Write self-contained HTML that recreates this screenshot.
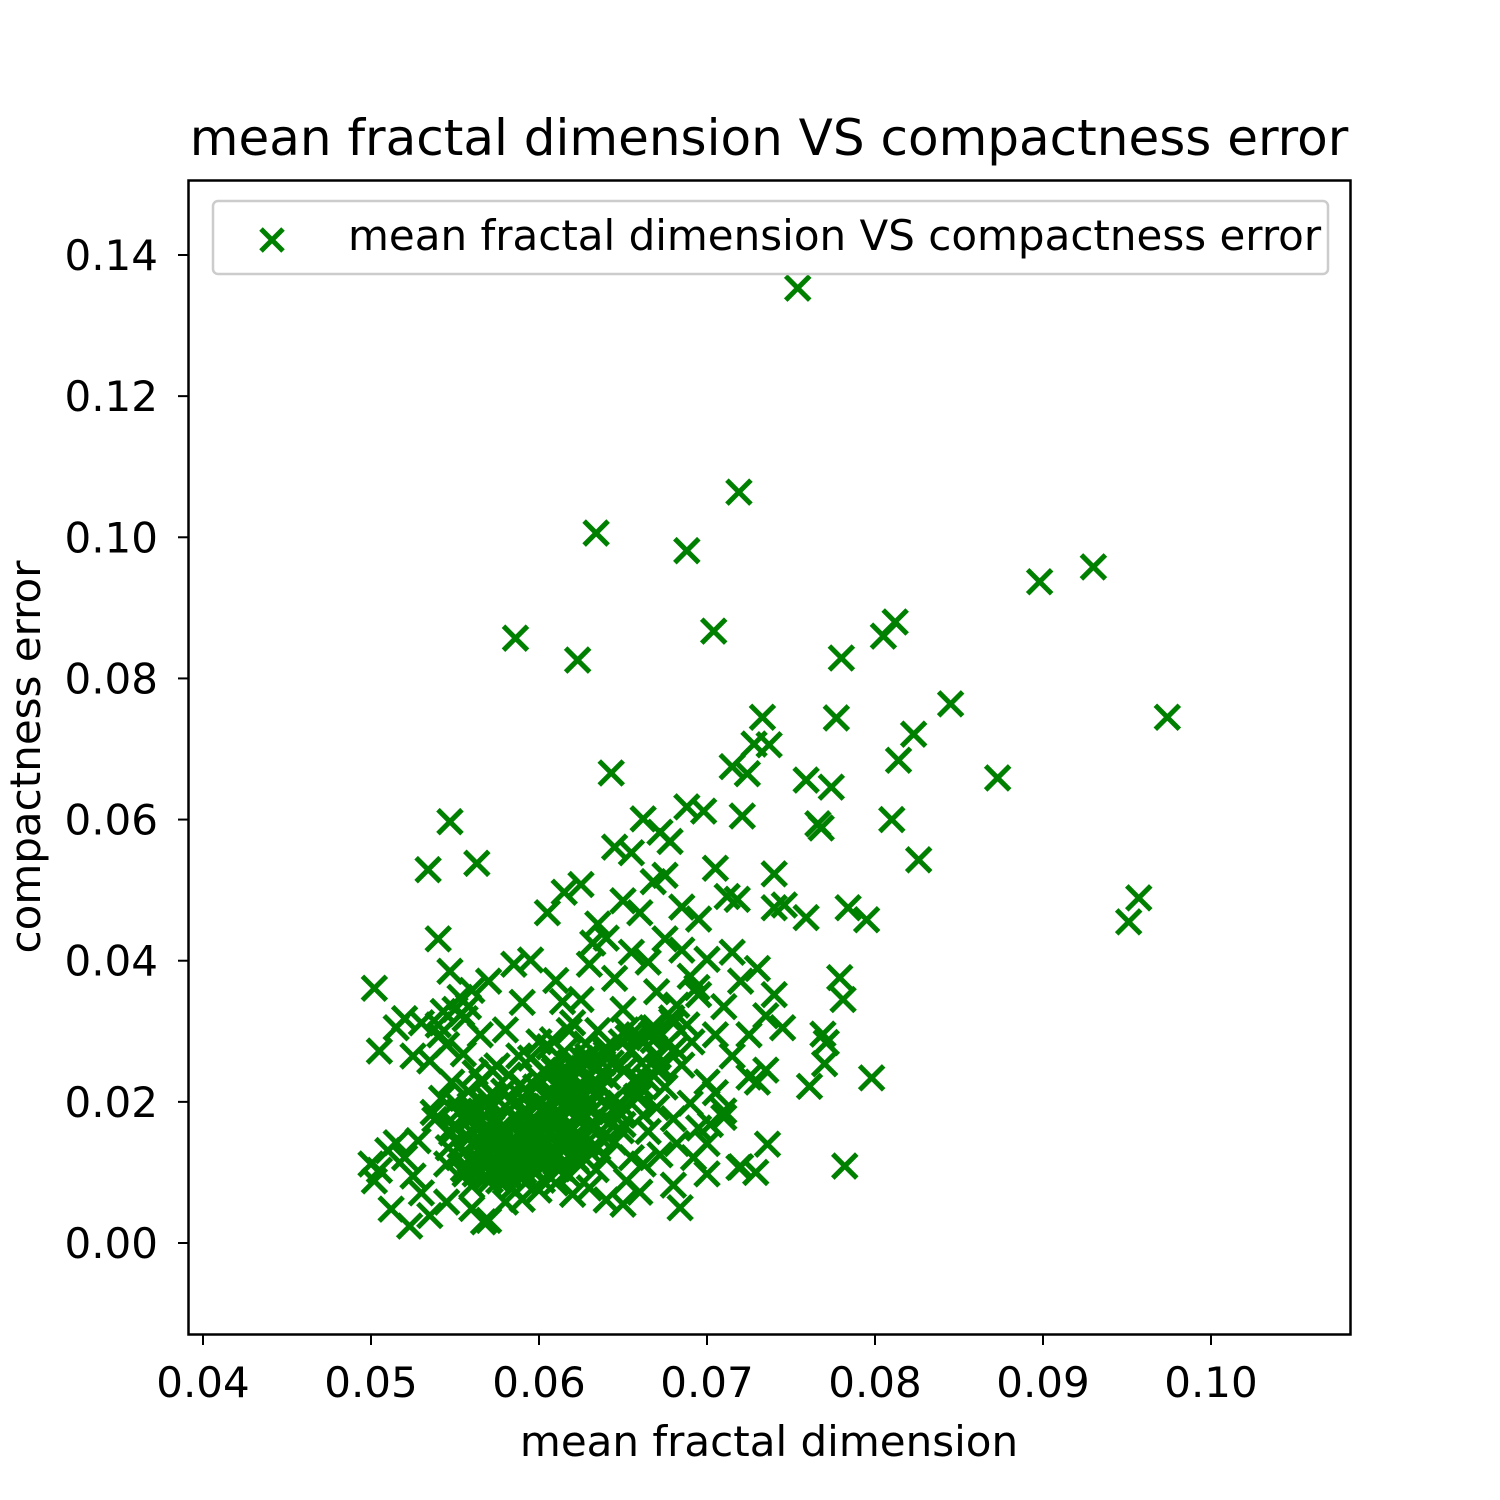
<!DOCTYPE html>
<html><head><meta charset="utf-8">
<style>
html,body{margin:0;padding:0;background:#fff;}
svg{display:block;}
text{font-family:"DejaVu Sans","Liberation Sans",sans-serif;fill:#000;}
</style></head>
<body>
<svg id="chart" width="1500" height="1500" viewBox="0 0 1500 1500" xmlns="http://www.w3.org/2000/svg">
<rect x="0" y="0" width="1500" height="1500" fill="#fff"/>
<text x="769" y="155" font-size="50" text-anchor="middle">mean fractal dimension VS compactness error</text>
<g id="marks"></g>
<rect x="188.5" y="180.5" width="1162" height="1154" fill="none" stroke="#000" stroke-width="2.5"/>
<g id="xticks"></g>
<g id="yticks"></g>
<text x="769" y="1456" font-size="42" text-anchor="middle">mean fractal dimension</text>
<text transform="translate(40,757) rotate(-90)" font-size="42" text-anchor="middle">compactness error</text>
<g>
<rect x="213" y="201" width="1115" height="73" rx="5" fill="#fff" fill-opacity="0.8" stroke="#ccc" stroke-width="2.5"/>
<g stroke="#008000" stroke-width="5"><line x1="261" y1="229" x2="283" y2="251"/><line x1="261" y1="251" x2="283" y2="229"/></g>
<text x="348" y="250" font-size="42">mean fractal dimension VS compactness error</text>
</g>
</svg>
<script>
const xTickValues=[0.04,0.05,0.06,0.07,0.08,0.09,0.10];
const xTickLabels=["0.04","0.05","0.06","0.07","0.08","0.09","0.10"];
const yTickValues=[0,0.02,0.04,0.06,0.08,0.10,0.12,0.14];
const yTickLabels=["0.00","0.02","0.04","0.06","0.08","0.10","0.12","0.14"];
const xValues=[0.0754,0.0719,0.0634,0.0688,0.0586,0.0623,0.0704,0.0898,0.0930,0.0805,0.0812,0.0780,0.0845,0.0974,0.0823,0.0814,0.0777,0.0733,0.0737,0.0728,0.0715,0.0724,0.0643,0.0873,0.0759,0.0774,0.0766,0.0768,0.0810,0.0826,0.0721,0.0547,0.0534,0.0563,0.0540,0.0951,0.0957,0.0795,0.0784,0.0759,0.0740,0.0746,0.0740,0.0798,0.0782,0.0502,0.0505,0.0761,0.0770,0.0771,0.0769,0.0779,0.0781,0.0736,0.0729,0.0719,0.0684,0.0523,0.0567,
0.0552,0.0561,0.0570,0.0578,0.0585,0.0592,0.0600,0.0607,0.0614,0.0621,0.0628,0.0635,0.0556,0.0565,0.0573,0.0581,0.0589,0.0596,0.0603,0.0611,0.0618,0.0625,0.0632,0.0639,0.0548,0.0558,0.0567,0.0575,0.0583,0.0590,0.0598,0.0605,0.0612,0.0620,0.0627,0.0634,0.0641,0.0553,0.0563,0.0571,0.0579,0.0587,0.0594,0.0602,0.0609,0.0616,0.0623,0.0630,0.0637,0.0545,0.0560,0.0568,0.0576,0.0584,0.0591,0.0599,0.0606,0.0613,0.0622,0.0629,0.0636,0.0645,0.0650,0.0655,0.0660,0.0648,0.0658,0.0665,0.0670,0.0675,0.0680,0.0668,0.0685,0.0690,0.0695,0.0700,0.0705,0.0710,
0.0580,0.0590,0.0600,0.0610,0.0620,0.0630,0.0640,0.0650,0.0660,0.0670,0.0680,0.0690,0.0700,0.0710,0.0720,0.0730,0.0740,0.0735,0.0745,0.0715,0.0725,0.0605,0.0615,0.0625,0.0635,0.0645,0.0655,0.0662,0.0672,0.0678,0.0668,0.0675,0.0688,0.0698,0.0705,0.0712,0.0718,0.0685,0.0695,0.0660,0.0650,0.0640,0.0595,0.0585,0.0570,0.0560,0.0550,0.0540,0.0530,0.0520,0.0515,0.0525,0.0535,0.0545,0.0555,0.0565,0.0575,0.0595,0.0615,0.0625,0.0635,0.0645,0.0655,0.0665,0.0675,0.0685,0.0695,0.0705,0.0715,0.0725,0.0735,0.0730,0.0700,0.0710,0.0700,0.0720,0.0680,0.0660,0.0640,0.0620,0.0600,0.0580,0.0560,0.0570,0.0590,0.0545,0.0535,0.0530,0.0525,0.0520,0.0515,0.0510,0.0505,0.0500,0.0502,0.0512,0.0528,0.0538,0.0542,0.0548,0.0552,0.0558,0.0562,0.0566,0.0572,0.0582,0.0588,0.0598,0.0608,0.0618,0.0628,0.0638,0.0648,0.0652,0.0662,0.0672,0.0682,0.0692,0.0702,0.0610,0.0630,0.0650,
0.0557,0.0564,0.0574,0.0586,0.0593,0.0601,0.0608,0.0615,0.0624,0.0631,0.0559,0.0569,0.0577,0.0588,0.0597,0.0604,0.0617,0.0626,0.0633,0.0642,0.0578,0.0594,0.0612,0.0619,0.0562,0.0582,0.0602,0.0621,0.0608,0.0598,0.0546,0.0555,0.0568,0.0584,
0.0566,0.0576,0.0587,0.0596,0.0606,0.0616,0.0626,0.0572,0.0583,0.0592,0.0603,0.0613,0.0623,0.0551,0.0561,0.0571,0.0581,0.0591,0.0601,0.0611,0.0621,0.0631,0.0641,0.0651,0.0661,0.0671,0.0681,0.0691,0.0541,0.0537,0.0549,0.0559,0.0569,0.0579,0.0589,0.0599,0.0609,0.0619,0.0629,0.0639,0.0649,0.0659,0.0669,0.0679,
0.0554,0.0558,0.0563,0.0567,0.0572,0.0577,0.0581,0.0586,0.0590,0.0595,0.0599,0.0604,0.0608,0.0613,0.0617,0.0622,0.0626,0.0631,0.0635,0.0640,0.0644,0.0649,0.0653,0.0658,0.0662,0.0667,0.0671,0.0550,0.0556,0.0562,0.0568,0.0574,0.0580,0.0586,0.0592,0.0598,0.0604,0.0610,0.0616,0.0622,0.0628,0.0634,0.0640,0.0646,0.0652,0.0658,0.0664,0.0670,0.0676,0.0682,0.0688,0.0694,0.0543,0.0547,0.0553,0.0559,0.0565,0.0571,0.0577,0.0583,0.0589,0.0595,0.0601,0.0607,0.0613,0.0619,0.0625,0.0631,0.0637,0.0643,0.0649,0.0655,0.0661,0.0667,0.0673,0.0679,0.0606,0.0614,0.0618,0.0632];
const yValues=[0.1353,0.1064,0.1006,0.0981,0.0857,0.0826,0.0867,0.0937,0.0958,0.0860,0.0880,0.0829,0.0764,0.0745,0.0721,0.0684,0.0744,0.0745,0.0706,0.0707,0.0675,0.0665,0.0666,0.0659,0.0656,0.0646,0.0594,0.0588,0.0600,0.0543,0.0605,0.0597,0.0529,0.0538,0.0431,0.0455,0.0489,0.0458,0.0475,0.0461,0.0523,0.0479,0.0475,0.0234,0.0109,0.0361,0.0272,0.0222,0.0254,0.0284,0.0296,0.0376,0.0345,0.0140,0.0100,0.0107,0.0050,0.0024,0.0030,
0.0121,0.0143,0.0112,0.0165,0.0131,0.0189,0.0152,0.0118,0.0176,0.0203,0.0141,0.0227,0.0098,0.0187,0.0209,0.0096,0.0224,0.0107,0.0245,0.0139,0.0095,0.0261,0.0168,0.0122,0.0156,0.0173,0.0126,0.0148,0.0201,0.0157,0.0134,0.0193,0.0218,0.0128,0.0182,0.0104,0.0196,0.0138,0.0107,0.0162,0.0119,0.0178,0.0211,0.0089,0.0163,0.0232,0.0115,0.0196,0.0148,0.0112,0.0081,0.0195,0.0088,0.0147,0.0102,0.0172,0.0213,0.0106,0.0154,0.0237,0.0181,0.0143,0.0168,0.0121,0.0209,0.0251,0.0234,0.0158,0.0192,0.0221,0.0176,0.0287,0.0252,0.0198,0.0163,0.0141,0.0213,0.0187,
0.0302,0.0341,0.0285,0.0372,0.0312,0.0395,0.0268,0.0331,0.0289,0.0356,0.0312,0.0378,0.0402,0.0335,0.0371,0.0389,0.0352,0.0322,0.0305,0.0412,0.0295,0.0468,0.0497,0.0508,0.0452,0.0561,0.0553,0.0601,0.0582,0.0569,0.0512,0.0521,0.0618,0.0612,0.0531,0.0491,0.0487,0.0476,0.0459,0.0468,0.0485,0.0432,0.0401,0.0395,0.0371,0.0358,0.0331,0.0309,0.0312,0.0318,0.0305,0.0265,0.0258,0.0281,0.0268,0.0295,0.0251,0.0262,0.0271,0.0345,0.0301,0.0375,0.0412,0.0398,0.0431,0.0415,0.0352,0.0295,0.0265,0.0235,0.0245,0.0228,0.0228,0.0178,0.0098,0.0108,0.0082,0.0072,0.0061,0.0069,0.0075,0.0058,0.0049,0.0032,0.0062,0.0058,0.0039,0.0071,0.0095,0.0121,0.0142,0.0131,0.0103,0.0112,0.0088,0.0048,0.0145,0.0175,0.0205,0.0228,0.0185,0.0215,0.0241,0.0228,0.0245,0.0238,0.0265,0.0221,0.0288,0.0255,0.0282,0.0255,0.0198,0.0088,0.0112,0.0125,0.0141,0.0121,0.0168,0.0085,0.0078,0.0055,
0.0152,0.0132,0.0178,0.0112,0.0142,0.0199,0.0128,0.0151,0.0172,0.0128,0.0118,0.0148,0.0131,0.0154,0.0118,0.0165,0.0188,0.0149,0.0211,0.0171,0.0102,0.0171,0.0185,0.0141,0.0165,0.0188,0.0135,0.0235,0.0252,0.0195,0.0135,0.0105,0.0092,0.0078,
0.0115,0.0125,0.0135,0.0145,0.0155,0.0165,0.0175,0.0105,0.0095,0.0085,0.0185,0.0205,0.0215,0.0165,0.0155,0.0145,0.0135,0.0125,0.0115,0.0105,0.0215,0.0225,0.0235,0.0245,0.0255,0.0265,0.0275,0.0285,0.0295,0.0185,0.0165,0.0195,0.0205,0.0215,0.0225,0.0235,0.0245,0.0255,0.0265,0.0275,0.0285,0.0295,0.0305,0.0315,0.0325,0.0335,
0.0168,0.0124,0.0192,0.0141,0.0109,0.0175,0.0206,0.0125,0.0161,0.0194,0.0122,0.0229,0.0158,0.0119,0.0247,0.0186,0.0135,0.0271,0.0202,0.0159,0.0291,0.0226,0.0181,0.0305,0.0244,0.0199,0.0318,0.0098,0.0133,0.0106,0.0152,0.0119,0.0184,0.0099,0.0211,0.0129,0.0238,0.0148,0.0259,0.0166,0.0276,0.0189,0.0302,0.0208,0.0233,0.0262,0.0281,0.0337,0.0309,0.0362,0.0328,0.0385,0.0348,0.0186,0.0146,0.0089,0.0112,0.0132,0.0098,0.0158,0.0124,0.0178,0.0141,0.0197,0.0216,0.0162,0.0238,0.0255,0.0182,0.0273,0.0221,0.0296,0.0248,0.0319,0.0278,0.0342,0.0301,0.0425,0.0442,0.0415,0.0388];

const X0=203,X1=1211,xmin=0.04,xmax=0.10;
const Y0=1243,Y1=255,ymin=0,ymax=0.14;
function px(v){return X0+(v-xmin)/(xmax-xmin)*(X1-X0);}
function py(v){return Y0-(v-ymin)/(ymax-ymin)*(Y0-Y1);}
const NS="http://www.w3.org/2000/svg";
function mk(tag,attrs,parent){const e=document.createElementNS(NS,tag);for(const k in attrs)e.setAttribute(k,attrs[k]);parent.appendChild(e);return e;}

const marks=document.getElementById('marks');
const h=12;
const n=Math.min(xValues.length,yValues.length);
for(let i=0;i<n;i++){
  const cx=px(xValues[i]),cy=py(yValues[i]);
  const g=mk('g',{stroke:'#008000','stroke-width':5},marks);
  
  
  mk('line',{x1:cx-h,y1:cy-h,x2:cx+h,y2:cy+h},g);
  mk('line',{x1:cx-h,y1:cy+h,x2:cx+h,y2:cy-h},g);
}
const xt=document.getElementById('xticks');
xTickValues.forEach((v,i)=>{
  const x=px(v);
  const l=mk('line',{x1:x,y1:1335,x2:x,y2:1345,stroke:'#000','stroke-width':2},xt);
  
  
  const t=mk('text',{x:x,y:1397,'font-size':42,'text-anchor':'middle'},xt);
  
  
  t.textContent=xTickLabels[i];
});
const yt=document.getElementById('yticks');
yTickValues.forEach((v,i)=>{
  const y=py(v);
  const l=mk('line',{x1:178,y1:y,x2:188,y2:y,stroke:'#000','stroke-width':2},yt);
  
  
  const t=mk('text',{x:158,y:y+15,'font-size':42,'text-anchor':'end'},yt);
  
  
  t.textContent=yTickLabels[i];
});
</script>
</body></html>
